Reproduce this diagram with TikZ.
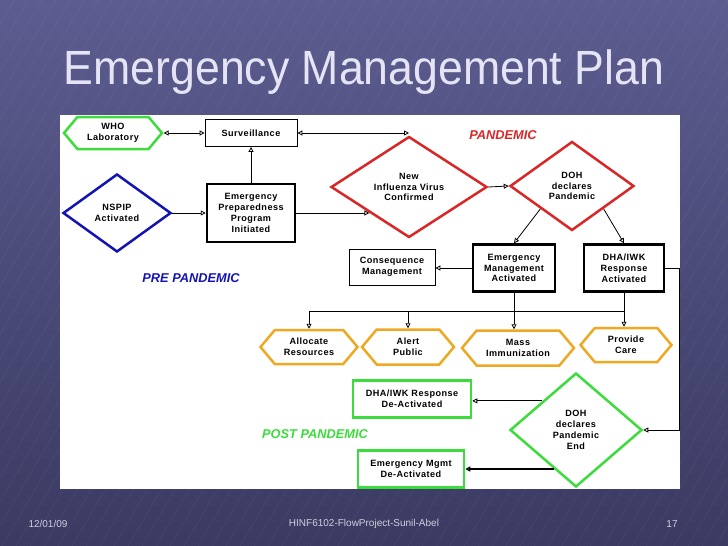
\documentclass[tikz,border=0pt]{standalone}
\usepackage{fontspec}
\setmainfont{Liberation Sans}
\newfontfamily\boxfont{Liberation Sans}[LetterSpace=5]
\usetikzlibrary{arrows.meta,shapes.geometric,shapes.symbols,calc}

\definecolor{slidetop}{HTML}{5C5C90}
\definecolor{slidebot}{HTML}{3A3A62}
\definecolor{titlecol}{HTML}{E4E4F4}
\definecolor{footcol}{HTML}{D0D0E0}
\definecolor{pgreen}{HTML}{3CDC3C}
\definecolor{pred}{HTML}{DA2626}
\definecolor{pblue}{HTML}{1414B4}
\definecolor{porange}{HTML}{EEA822}

\tikzset{
	boxtext/.style={font=\boxfont\bfseries\fontsize{9.1}{10.8}\selectfont, align=center, inner sep=0pt},
	thickbox/.style={boxtext, draw, line width=2.5pt, minimum width=88pt, minimum height=58pt},
	thinbox/.style={boxtext, draw, line width=0.8pt},
	hexa/.style={boxtext, draw=#1, line width=2.5pt, line join=miter, shape=signal,
		signal to=east and west, signal pointer angle=100},
	dia/.style={boxtext, draw=#1, line width=2.5pt, line join=miter, shape=diamond},
	phase/.style={font=\bfseries\itshape\fontsize{12.8}{15}\selectfont, text=#1, inner sep=0pt},
	link/.style={line width=0.8pt},
}

\begin{document}
\begin{tikzpicture}[x=1pt, y=-1pt, >={Triangle[open,length=5pt,width=5pt]}]

	% === SLIDE === (((
	\useasboundingbox (0,0) rectangle (728,546);
	\shade [top color=slidetop, bottom color=slidebot] (0,0) rectangle (728,546);
	\begin{scope}
		\clip (0,0) rectangle (728,546);
		\foreach \i in {-320,-306,...,728} \draw [white, opacity=0.07, line width=0.4pt] (\i,546) -- ++(320,-546);
	\end{scope}
	\fill [white] (60,115) rectangle (680,489);
	\node [font=\fontsize{48}{52}\selectfont, text=titlecol, xscale=0.93] (title) at (364,72) {Emergency Management Plan};
	\node [font=\fontsize{10}{12}\selectfont, text=footcol] (date) at (48,524) {12/01/09};
	\node [font=\fontsize{10}{12}\selectfont, text=footcol] (proj) at (364,524) {HINF6102-FlowProject-Sunil-Abel};
	\node [font=\fontsize{10}{12}\selectfont, text=footcol] (page) at (672,524) {17};
	% )))

	% === PRE PANDEMIC === (((
	\node [hexa=pgreen, minimum width=98pt, minimum height=32pt] (who) at (113,133) {WHO\\Laboratory};
	\node [thinbox, minimum width=92pt, minimum height=27pt,
		path picture={\foreach \s in {0,1} \draw ($(path picture bounding box.north west)!\s!(path picture bounding box.north east)+(8-16*\s,0)$) -- ++(0,-30);}]
		(surv) at (251,133) {Surveillance};
	\node [dia=pblue, minimum width=108pt, minimum height=78pt] (nspip) at (117,213) {NSPIP\\Activated};
	\node [thickbox] (epp) at (251,213) {Emergency\\Preparedness\\Program\\Initiated};
	\node [phase=pblue] (pre) at (191,278) {PRE PANDEMIC};
	% )))

	% === PANDEMIC === (((
	\node [dia=pred, minimum width=156pt, minimum height=101pt] (newinf) at (409,187) {New\\Influenza Virus\\Confirmed};
	\node [dia=pred, minimum width=124pt, minimum height=89pt] (dohp) at (572,186) {DOH\\declares\\Pandemic};
	\node [phase=pred] (pan) at (503,135) {PANDEMIC};
	\node [thinbox, minimum width=86pt, minimum height=36pt] (cons) at (392,267) {Consequence\\Management};
	\node [thickbox, minimum width=82pt, minimum height=47pt] (ema) at (514,268) {Emergency\\Management\\Activated};
	\node [thickbox, minimum width=80pt, minimum height=47pt] (dha) at (624,268) {DHA/IWK\\Response\\Activated};
	\node [hexa=porange, minimum width=97pt, minimum height=34pt] (alloc) at (309,347) {Allocate\\Resources};
	\node [hexa=porange, minimum width=92pt, minimum height=35pt] (alert) at (408,347) {Alert\\Public};
	\node [hexa=porange, minimum width=112pt, minimum height=35pt] (mass) at (518,348) {Mass\\Immunization};
	\node [hexa=porange, minimum width=91pt, minimum height=34pt] (care) at (626,345) {Provide\\Care};
	% )))

	% === POST PANDEMIC === (((
	\node [dia=pgreen, minimum width=132pt, minimum height=114pt] (dohend) at (576,430) {DOH\\declares\\Pandemic\\End};
	\node [boxtext, draw=pgreen, line width=2.5pt, minimum width=118pt, minimum height=37pt] (dhaoff) at (412,399) {DHA/IWK Response\\De-Activated};
	\node [boxtext, draw=pgreen, line width=2.5pt, minimum width=106pt, minimum height=37pt] (emaoff) at (411,469) {Emergency Mgmt\\De-Activated};
	\node [phase=pgreen] (post) at (315,434) {POST PANDEMIC};
	% )))

	% === CONNECTORS === (((
	\coordinate (bus) at (0,311);
	\coordinate (rim) at (679,0);
	\draw [link, <->] (who.east) -- (surv.west);
	\draw [link, <->] (surv.east) -- (surv.east -| newinf.north);
	\draw [link, ->] (nspip.east) -- (epp.west);
	\draw [link, ->] (epp.north) -- (surv.south);
	\draw [link, ->] (epp.east) -- (epp.east -| {$(newinf.west)!.5!(newinf.south)$});
	\draw [link, ->] (newinf.east) -- (dohp.west);
	\draw [link, ->] ($(dohp.west)!.5!(dohp.south)$) -- (ema.north);
	\draw [link, ->] ($(dohp.east)!.5!(dohp.south)$) -- (dha.north);
	\draw [link, ->] (ema.west) -- (ema.west -| cons.east);
	\draw [link, ->] (ema.south) -- (ema.south |- mass.north);
	\draw [link, ->] (dha.south) -- (dha.south |- care.north);
	\draw [link, ->] (dha.south |- bus) -| (alloc.north);
	\draw [link, ->] (alert.north |- bus) -- (alert.north);
	\draw [link, ->] (dha.east) -- (dha.east -| rim) |- (dohend.east);
	\draw [link, ->] ($(dohend.west)!.5!(dohend.north)$) -- (dhaoff.east |- {$(dohend.west)!.5!(dohend.north)$});
	\draw [line width=1.6pt, ->] ($(dohend.west)!.67!(dohend.south)$) -- (emaoff.east |- {$(dohend.west)!.67!(dohend.south)$});
	% )))

\end{tikzpicture}
\end{document}
